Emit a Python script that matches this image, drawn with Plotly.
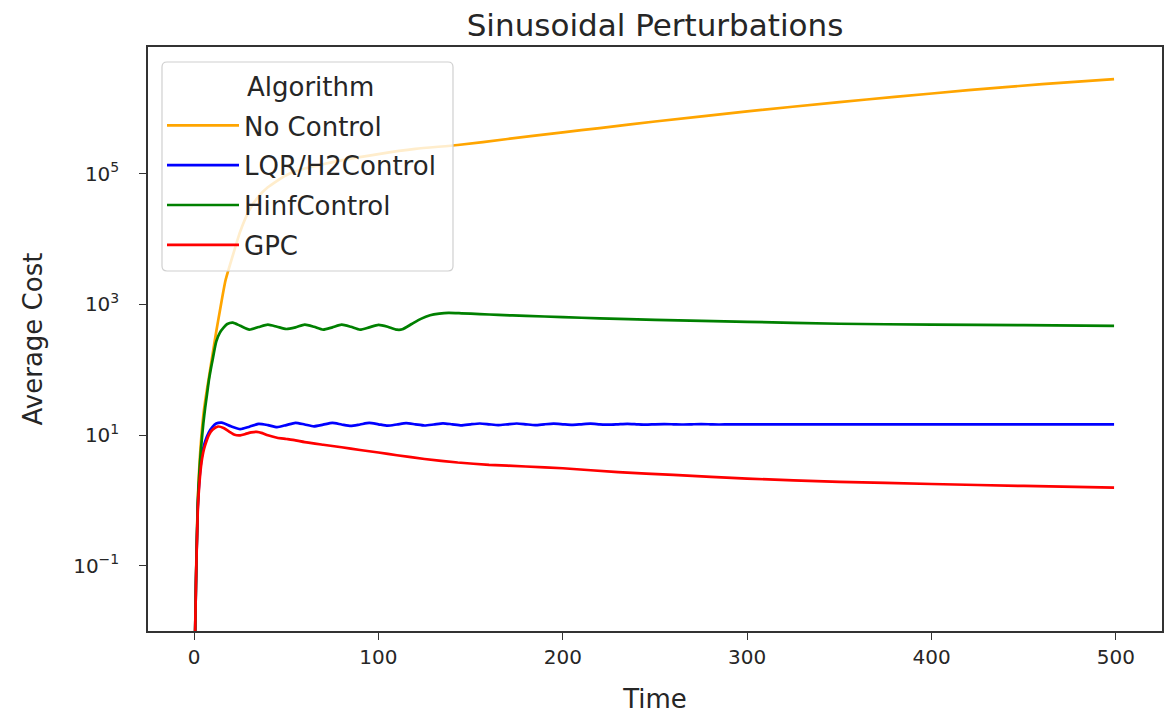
import plotly.graph_objects as go

# ---------------- data ----------------
t_noctrl = [0, 1, 2, 3, 4, 5, 6, 8, 10, 12, 14, 17, 20, 25, 30, 35, 40, 50, 60, 80,
            100, 120, 143, 170, 200, 220, 250, 300, 350, 380, 420, 460, 499]
cost_noctrl = [0.001, 0.06, 1.0, 4.0, 10, 20, 33, 75, 170, 380, 800, 2300, 4500, 1.3e4,
               2.8e4, 4.5e4, 6.2e4, 9.5e4, 1.2e5, 1.6e5, 2.0e5, 2.4e5, 2.75e5, 3.4e5,
               4.3e5, 5.0e5, 6.3e5, 9.0e5, 1.25e6, 1.5e6, 1.9e6, 2.35e6, 2.8e6]

t_lqr = [0, 1, 2, 3, 4, 5, 6, 8, 10, 12, 15, 20, 25, 30, 35, 40, 45, 50, 55, 60, 65, 70,
         75, 80, 85, 90, 95, 100, 105, 110, 115, 120, 125, 130, 135, 140, 145, 150, 155,
         160, 165, 170, 175, 180, 185, 190, 195, 200, 205, 210, 215, 220, 225, 230, 235,
         240, 245, 250, 255, 260, 265, 270, 275, 280, 285, 290, 295, 300, 320, 350, 400,
         450, 499]
cost_lqr = [0.001, 0.05, 0.8, 2.3, 4.3, 6.3, 8.0, 11.0, 13.3, 15.0, 15.5, 13.6, 12.3, 13.4,
            14.8, 14.2, 13.2, 14.2, 15.4, 14.5, 13.6, 14.4, 15.3, 14.5, 13.8, 14.5, 15.3,
            14.6, 13.9, 14.5, 15.2, 14.6, 14.0, 14.5, 15.1, 14.6, 14.1, 14.6, 15.0, 14.6,
            14.2, 14.6, 15.0, 14.6, 14.2, 14.6, 14.9, 14.6, 14.3, 14.6, 14.9, 14.6, 14.4,
            14.6, 14.8, 14.6, 14.4, 14.6, 14.7, 14.6, 14.5, 14.6, 14.7, 14.6, 14.5, 14.6,
            14.6, 14.6, 14.6, 14.6, 14.6, 14.6, 14.6]

t_hinf = [0, 1, 2, 3, 4, 5, 6, 7, 8, 9, 10, 12, 14, 16, 18, 21, 25, 30, 35, 40, 45, 50,
          55, 60, 65, 70, 75, 80, 85, 90, 95, 100, 105, 110, 113, 118, 123, 128, 133, 138,
          145, 155, 165, 180, 200, 220, 250, 300, 350, 400, 450, 499]
cost_hinf = [0.001, 0.05, 0.9, 3.2, 7.5, 15, 26, 42, 68, 100, 140, 270, 370, 440, 500, 525,
             470, 410, 450, 490, 455, 420, 445, 490, 455, 410, 445, 490, 455, 410, 445, 485,
             455, 410, 415, 500, 600, 680, 720, 740, 730, 710, 690, 665, 640, 610, 580, 540,
             505, 490, 480, 470]

t_gpc = [0, 1, 2, 3, 4, 5, 6, 8, 10, 13, 16, 19, 22, 25, 28, 31, 34, 37, 40, 45, 50, 55,
         60, 70, 80, 90, 100, 110, 125, 143, 160, 180, 200, 230, 260, 300, 350, 400, 450, 499]
cost_gpc = [0.001, 0.05, 0.7, 2.0, 3.8, 5.5, 7.0, 10.0, 12.0, 13.5, 12.8, 11.3, 10.1, 9.9,
            10.4, 11.0, 11.2, 10.7, 9.9, 9.1, 8.7, 8.3, 7.8, 7.1, 6.5, 5.9, 5.4, 4.9, 4.3,
            3.8, 3.5, 3.3, 3.1, 2.7, 2.45, 2.15, 1.92, 1.78, 1.66, 1.57]

series_names = ["No Control", "LQR/H2Control", "HinfControl", "GPC"]
series_colors = ["orange", "blue", "green", "red"]
legend_title = "Algorithm"

x_tickvals = [0, 100, 200, 300, 400, 500]
y_tickvals = [0.1, 10, 1000, 100000]
y_ticktext = ["10<sup>\u22121</sup>", "10<sup>1</sup>", "10<sup>3</sup>", "10<sup>5</sup>"]

# ---------------- figure ----------------
FONT = "DejaVu Sans"
TXT = "#262626"
W, H = 1176, 715
ML, MR, MT, MB = 148, 14, 47, 84
PW, PH = W - ML - MR, H - MT - MB


def px_x(px):
    return (px - ML) / PW


def px_y(py):
    return (H - MB - py) / PH


fig = go.Figure()
all_t = [t_noctrl, t_lqr, t_hinf, t_gpc]
all_c = [cost_noctrl, cost_lqr, cost_hinf, cost_gpc]
for i, (tt, cc) in enumerate(zip(all_t, all_c)):
    fig.add_trace(go.Scatter(
        x=tt, y=cc, mode="lines", name=series_names[i],
        legendgroup=series_names[i],
        line=dict(color=series_colors[i], width=2.7, shape="spline", smoothing=0.6),
    ))

# legend frame (rounded, semi-transparent, like matplotlib's)
x0, x1 = px_x(162), px_x(453)
y0, y1 = px_y(271), px_y(62)
rx, ry = 5 / PW, 5 / PH
path = (f"M {x0+rx},{y0} L {x1-rx},{y0} Q {x1},{y0} {x1},{y0+ry} "
        f"L {x1},{y1-ry} Q {x1},{y1} {x1-rx},{y1} L {x0+rx},{y1} "
        f"Q {x0},{y1} {x0},{y1-ry} L {x0},{y0+ry} Q {x0},{y0} {x0+rx},{y0} Z")
fig.add_shape(type="path", path=path, xref="paper", yref="paper", layer="above",
              fillcolor="rgba(255,255,255,0.8)", line=dict(color="#d0d0d0", width=1.2))
fig.add_annotation(text=legend_title, xref="paper", yref="paper",
                   x=px_x(310), y=px_y(87), xanchor="center", yanchor="middle",
                   showarrow=False, font=dict(family=FONT, size=26, color=TXT))

axis_common = dict(
    showline=True, linecolor="#333333", linewidth=1.5, mirror=True,
    ticks="outside", ticklen=7, tickwidth=1.3, tickcolor="#333333",
    showgrid=False, zeroline=False, automargin=False,
    tickfont=dict(family=FONT, size=20, color=TXT),
)

fig.update_layout(
    width=W, height=H,
    margin=dict(l=ML, r=MR, t=MT, b=MB),
    paper_bgcolor="white", plot_bgcolor="white",
    title=dict(text="Sinusoidal Perturbations", x=0.5, xref="paper",
               y=1 - 25 / H, yref="container", xanchor="center", yanchor="middle",
               font=dict(family=FONT, size=31, color=TXT)),
    xaxis=dict(range=[-25, 525], tickvals=x_tickvals,
               title=dict(text="Time", font=dict(family=FONT, size=26, color=TXT), standoff=22),
               **axis_common),
    yaxis=dict(type="log", range=[-2.0, 6.94], tickvals=y_tickvals, ticktext=y_ticktext,
               ticklabelstandoff=16,
               title=dict(text="Average Cost", font=dict(family=FONT, size=26, color=TXT), standoff=23),
               **axis_common),
    legend=dict(
        x=px_x(162), y=px_y(102), xanchor="left", yanchor="top",
        bgcolor="rgba(0,0,0,0)", borderwidth=0,
        font=dict(family=FONT, size=26, color=TXT),
        tracegroupgap=3, itemwidth=72,
    ),
    showlegend=True,
)

fig.write_html("out.html")
